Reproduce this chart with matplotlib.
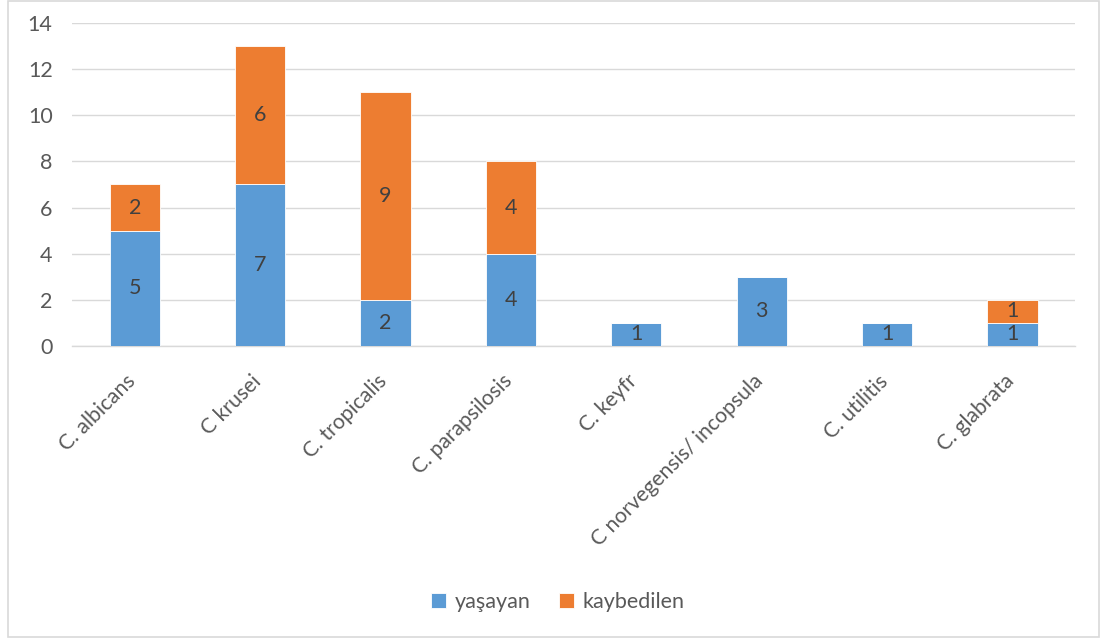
import matplotlib
matplotlib.use("Agg")
import matplotlib.pyplot as plt
from matplotlib.patches import Rectangle
from matplotlib.transforms import ScaledTranslation
import numpy as np

species = ["C. albicans", "C krusei", "C. tropicalis", "C. parapsilosis",
           "C. keyfr", "C norvegensis/ incopsula", "C. utilitis", "C. glabrata"]
living = [5, 7, 2, 4, 1, 3, 1, 1]
lost = [2, 6, 9, 4, 0, 0, 0, 1]
series_names = ["yaşayan", "kaybedilen"]
y_ticks = [0, 2, 4, 6, 8, 10, 12, 14]

plt.rcParams["font.family"] = ["Lato", "DejaVu Sans"]
BLUE = "#5B9BD5"
ORANGE = "#ED7D31"
TEXT = "#595959"
LABEL = "#404040"
GRID = "#D9D9D9"
FS = 15.5
XFS = 15.2

fig = plt.figure(figsize=(11.05, 6.4), dpi=100)
ax = fig.add_axes([0.0652, 0.4594, 0.9078, 0.5047])

x = np.arange(len(species))
w = 0.4
b1 = ax.bar(x, living, width=w, color=BLUE, label=series_names[0], zorder=3,
            edgecolor="white", linewidth=0.6)
b2 = ax.bar(x, lost, width=w, bottom=living, color=ORANGE, label=series_names[1],
            zorder=3, edgecolor="white", linewidth=0.6)

for i in range(len(species)):
    if living[i]:
        ax.text(x[i], living[i] / 2, str(living[i]), ha="center", va="center",
                fontsize=FS, color=LABEL, zorder=4)
    if lost[i]:
        ax.text(x[i], living[i] + lost[i] / 2, str(lost[i]), ha="center",
                va="center", fontsize=FS, color=LABEL, zorder=4)

ax.set_xlim(-0.5, len(species) - 0.5)
ax.set_ylim(0, 14)
ax.set_yticks(y_ticks)
ax.yaxis.grid(True, color=GRID, linewidth=1.0, zorder=0)
ax.set_axisbelow(True)
for s in ["top", "right", "left"]:
    ax.spines[s].set_visible(False)
ax.spines["bottom"].set_color(GRID)
ax.spines["bottom"].set_linewidth(1.0)
ax.tick_params(axis="both", length=0, colors=TEXT, labelsize=FS)
ax.tick_params(axis="y", pad=14)
ax.set_xticks(x)
ax.set_xticklabels(species, rotation=45, ha="right", rotation_mode="anchor",
                   color=TEXT, fontsize=XFS)
ax.tick_params(axis="x", pad=18)
shift = ScaledTranslation(-9 / 100, 0, fig.dpi_scale_trans)
for lbl in ax.get_xticklabels():
    lbl.set_transform(lbl.get_transform() + shift)

leg = fig.legend(handles=[b1, b2], labels=series_names, loc="center",
                 bbox_to_anchor=(0.505, 0.060), ncol=2, frameon=False,
                 fontsize=FS, handlelength=0.7, handleheight=0.7,
                 handletextpad=0.4, columnspacing=1.3)
for t in leg.get_texts():
    t.set_color(TEXT)

fig.patches.append(Rectangle((0.007, 0.004), 0.988, 0.994, transform=fig.transFigure,
                             fill=False, edgecolor=GRID, linewidth=1.2))

fig.savefig("out.png", dpi=100, facecolor="white")
